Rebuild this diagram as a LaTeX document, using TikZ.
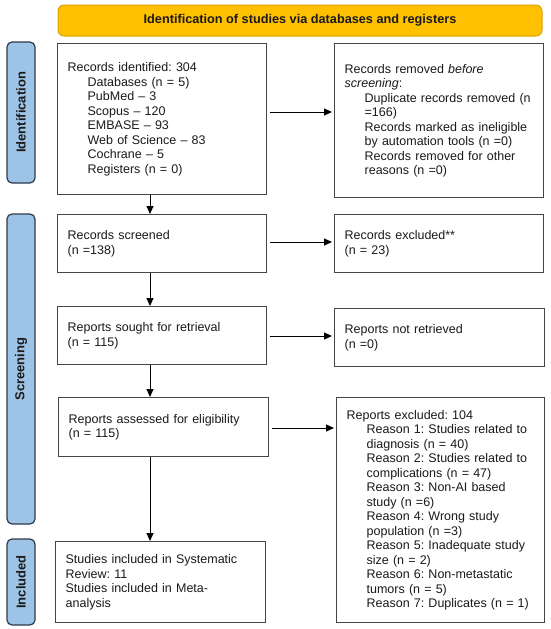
\documentclass[tikz,border=0pt]{standalone}
\usepackage{fontspec}
\setmainfont{Liberation Sans}
\usetikzlibrary{arrows.meta}
\definecolor{bannerfill}{HTML}{FFC000}
\definecolor{bannerline}{HTML}{D9A300}
\definecolor{sidefill}{HTML}{9DC3E6}
\definecolor{sideline}{HTML}{2F3B4C}
\definecolor{boxline}{HTML}{454545}
\definecolor{txt}{HTML}{1A1A1A}
\newcommand{\ind}{\hspace*{20pt}}
\frenchspacing
\begin{document}
\begin{tikzpicture}[x=1pt,y=-1pt,
  box/.style={draw=boxline, line width=1.3pt, fill=white, inner xsep=10pt, inner ysep=0pt,
    text=txt, font=\frenchspacing\fontsize{12.5}{14.5}\selectfont, align=left, anchor=north west},
  side/.style={draw=sideline, line width=1.2pt, fill=sidefill, rounded corners=5pt, rotate=90,
    inner sep=0pt, text=txt, font=\bfseries\fontsize{13}{14}\selectfont, minimum height=28pt},
  banner/.style={draw=bannerline, line width=1pt, fill=bannerfill, rounded corners=6pt,
    inner sep=0pt, text=txt, font=\bfseries\fontsize{12.7}{14}\selectfont},
  arr/.style={draw=black, line width=1pt, -{Triangle[length=8pt,width=7pt]}}
]
\useasboundingbox (0,0) rectangle (550,629);

\node[banner, minimum width=484pt, minimum height=31pt] (ban) at (300,20.5)
  {Identification of studies via databases and registers};

\node[side, minimum width=141pt] (sid1) at (21,112.5) {Identification};
\node[side, minimum width=310pt] (sid2) at (21,369) {Screening};
\node[side, minimum width=86pt] (sid3) at (21,582) {Included};

\node[box, text width=189pt, minimum height=151pt] (id) at (57,43)
  {Records identified: 304\\
   \ind Databases (n = 5)\\
   \ind PubMed -- 3\\
   \ind Scopus -- 120\\
   \ind EMBASE -- 93\\
   \ind Web of Science -- 83\\
   \ind Cochrane -- 5\\
   \ind Registers (n = 0)};

\node[box, text width=189pt, minimum height=154pt] (rem) at (334,43)
  {Records removed \textit{before}\\
   \textit{screening}:\\
   \ind Duplicate records removed (n\\
   \ind =166)\\
   \ind Records marked as ineligible\\
   \ind by automation tools (n =0)\\
   \ind Records removed for other\\
   \ind reasons (n =0)};

\node[box, text width=189pt, minimum height=58pt] (scr) at (57,214)
  {Records screened\\(n =138)};
\node[box, text width=189pt, minimum height=58pt] (exc) at (334,214)
  {Records excluded**\\(n = 23)};

\node[box, text width=189pt, minimum height=58pt] (sou) at (57,306)
  {Reports sought for retrieval\\(n = 115)};
\node[box, text width=190pt, minimum height=58pt] (ret) at (334,308)
  {Reports not retrieved\\(n =0)};

\node[box, text width=190pt, minimum height=59pt] (ass) at (58,397)
  {Reports assessed for eligibility\\(n = 115)};
\node[box, text width=188pt, minimum height=225pt] (rex) at (336,397)
  {Reports excluded: 104\\
   \ind Reason 1: Studies related to\\
   \ind diagnosis (n = 40)\\
   \ind Reason 2: Studies related to\\
   \ind complications (n = 47)\\
   \ind Reason 3: Non-AI based\\
   \ind study (n =6)\\
   \ind Reason 4: Wrong study\\
   \ind population (n =3)\\
   \ind Reason 5: Inadequate study\\
   \ind size (n = 2)\\
   \ind Reason 6: Non-metastatic\\
   \ind tumors (n = 5)\\
   \ind Reason 7: Duplicates (n = 1)};

\node[box, text width=190pt, minimum height=81pt] (inc) at (55,541)
  {Studies included in Systematic\\
   Review: 11\\
   Studies included in Meta-\\
   analysis};

\coordinate (col) at (150,0);
\coordinate (r1) at (0,112);
\coordinate (r2) at (0,242);
\coordinate (r3) at (0,336);
\coordinate (r4) at (0,428);

\draw[arr, shorten <=3pt, shorten >=2pt] (id.east |- r1) -- (rem.west |- r1);
\draw[arr, shorten <=3pt, shorten >=2pt] (scr.east |- r2) -- (exc.west |- r2);
\draw[arr, shorten <=3pt, shorten >=2pt] (sou.east |- r3) -- (ret.west |- r3);
\draw[arr, shorten <=3pt, shorten >=2pt] (ass.east |- r4) -- (rex.west |- r4);

\draw[arr] (id.south -| col) -- (scr.north -| col);
\draw[arr] (scr.south -| col) -- (sou.north -| col);
\draw[arr] (sou.south -| col) -- (ass.north -| col);
\draw[arr] (ass.south -| col) -- (inc.north -| col);
\end{tikzpicture}
\end{document}
